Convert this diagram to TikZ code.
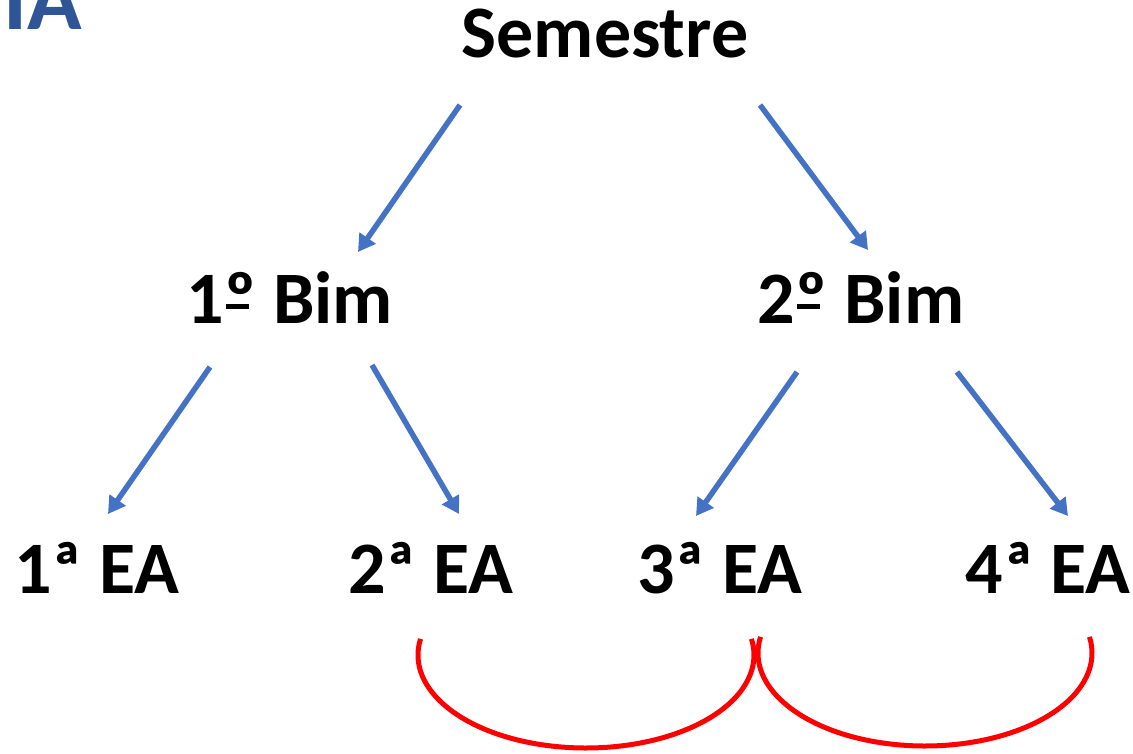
\documentclass[tikz,border=0pt]{standalone}
\usepackage{fontspec}
\setmainfont{Carlito}
\usetikzlibrary{arrows.meta}
\definecolor{arrowblue}{HTML}{4472C4}
\definecolor{titleblue}{HTML}{2F5597}
\newcommand\ordbar{\rlap{\hspace{2pt}\rule[14pt]{23pt}{5pt}}º}
\begin{document}
\begin{tikzpicture}[x=1pt,y=-1pt,
  lbl/.style={inner sep=0pt,anchor=base,font=\fontsize{74}{80}\selectfont\bfseries},
  conn/.style={arrowblue,line width=5.5pt,-{Triangle[length=17pt,width=19pt]}},
  link/.style={red,line width=5pt}]
\useasboundingbox (0,0) rectangle (1133,753);
\node[inner sep=0pt,anchor=base east,text=titleblue,font=\fontsize{90}{96}\selectfont\bfseries] (ia) at (82,29) {IA};
\node[lbl] (sem) at (605,57) {Semestre};
\node[lbl] (b1) at (290,323) {1\ordbar{} Bim};
\node[lbl] (b2) at (861,323) {2\ordbar{} Bim};
\node[lbl] (e1) at (97,593) {1ª EA};
\node[lbl] (e2) at (431,593) {2ª EA};
\node[lbl] (e3) at (720,593) {3ª EA};
\node[lbl] (e4) at (1048,593) {4ª EA};
\coordinate (s1) at (460,105); \coordinate (t1) at (358,252);
\coordinate (s2) at (760,105); \coordinate (t2) at (868,250);
\coordinate (s3) at (210,367); \coordinate (t3) at (108,514);
\coordinate (s4) at (372,365); \coordinate (t4) at (459,514);
\coordinate (s5) at (797,372); \coordinate (t5) at (696,516);
\coordinate (s6) at (957,372); \coordinate (t6) at (1068,516);
\draw[conn] (s1) -- (t1);
\draw[conn] (s2) -- (t2);
\draw[conn] (s3) -- (t3);
\draw[conn] (s4) -- (t4);
\draw[conn] (s5) -- (t5);
\draw[conn] (s6) -- (t6);
\draw[link] (586,655) ++(190:168 and 93) arc[start angle=190,end angle=-10,x radius=168,y radius=93];
\draw[link] (925,653) ++(190:167 and 93) arc[start angle=190,end angle=-10,x radius=167,y radius=93];
\end{tikzpicture}
\end{document}
